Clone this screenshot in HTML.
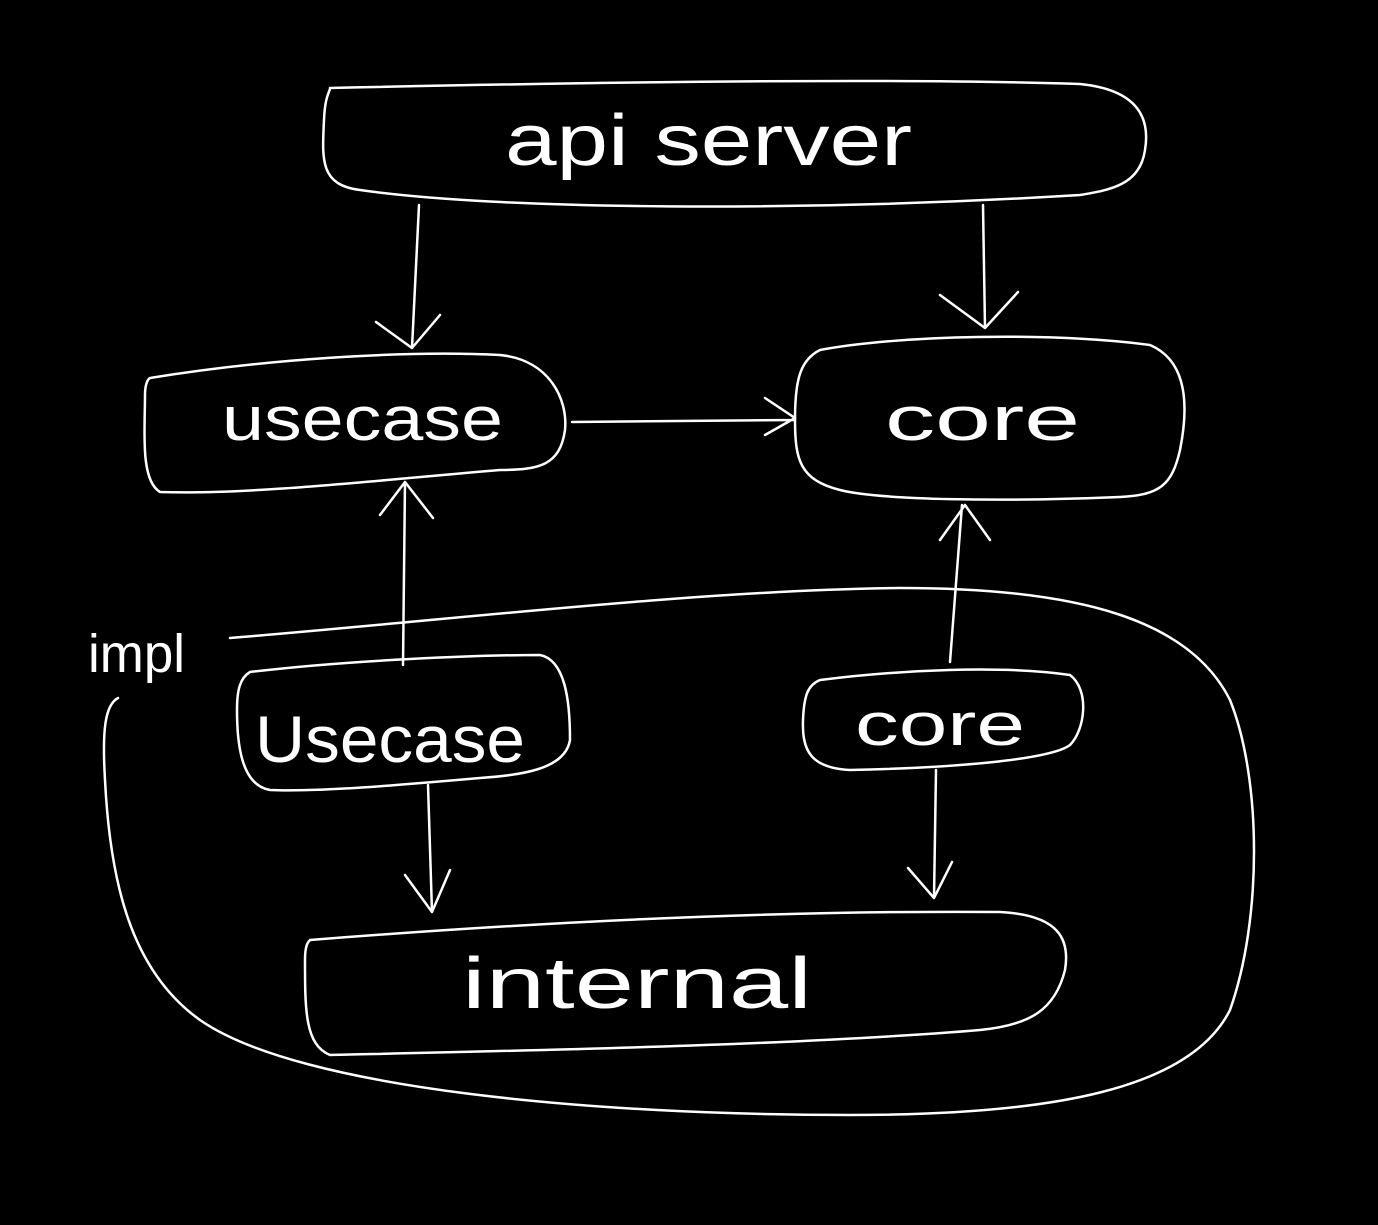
<!DOCTYPE html>
<html><head><meta charset="utf-8"><style>
html,body{margin:0;padding:0;background:#000;}
svg{display:block}
text{font-family:"Liberation Sans",sans-serif;fill:#fff;}
</style></head><body>
<svg width="1378" height="1225" viewBox="0 0 1378 1225" xmlns="http://www.w3.org/2000/svg">
<g fill="none" stroke="#fff" stroke-width="2.5" stroke-linecap="round" stroke-linejoin="round">
<!-- api server box -->
<path d="M330,88 C600,82 900,78 1080,84 C1140,90 1150,120 1145,150 C1140,185 1110,190 1080,195 C800,212 500,210 360,190 C320,185 322,160 324,120 C325,95 330,92 330,88"/>
<!-- usecase box -->
<path d="M150,378 C260,360 400,350 500,355 C550,360 568,400 565,430 C560,465 540,470 500,470 C380,480 250,495 160,492 C140,480 145,430 145,395 C145,380 150,378 150,378"/>
<!-- core box -->
<path d="M820,350 C900,335 1050,332 1150,345 C1185,360 1190,400 1180,450 C1172,485 1160,495 1120,497 C1000,502 880,500 840,490 C800,480 795,460 795,420 C795,380 800,360 820,350"/>
<!-- arrows top -->
<path d="M419,205 L412,348 M376,322 L412,348 L440,315"/>
<path d="M983,205 L985,328 M940,295 L985,328 L1018,292"/>
<path d="M572,422 L795,420 M765,398 L795,418 L765,435"/>
<!-- impl loop -->
<path d="M230,638 C450,620 700,590 900,588 C1080,588 1190,620 1230,700 C1262,780 1262,920 1230,1010 C1190,1090 1050,1115 850,1115 C600,1115 300,1090 200,1020 C130,970 110,880 105,780 C102,730 105,705 118,698"/>
<!-- Usecase impl box -->
<path d="M250,672 C350,660 480,655 540,655 C565,660 570,700 570,740 C565,770 520,775 480,778 C400,785 320,792 270,790 C240,785 237,740 237,710 C237,690 240,678 250,672"/>
<path d="M403,665 L405,482 M380,515 L405,482 L433,518"/>
<!-- core impl box -->
<path d="M820,680 C900,670 1000,665 1070,675 C1090,690 1085,730 1070,745 C1050,760 950,768 850,770 C810,768 802,750 803,720 C804,695 808,685 820,680"/>
<path d="M950,662 L962,505 M940,540 L965,505 L990,540"/>
<!-- internal box -->
<path d="M310,940 C500,925 750,910 1000,912 C1060,915 1070,940 1065,970 C1055,1010 1030,1025 980,1030 C800,1045 550,1050 330,1055 C305,1045 305,1010 305,960 C305,945 308,942 310,940"/>
<path d="M428,785 L432,912 M405,875 L432,912 L450,870"/>
<path d="M936,770 L934,898 M908,868 L934,898 L952,862"/>
</g>
<text x="505" y="165" font-size="72" textLength="407" lengthAdjust="spacingAndGlyphs">api server</text>
<text x="222" y="440" font-size="62" textLength="281" lengthAdjust="spacingAndGlyphs">usecase</text>
<text x="885" y="440" font-size="62" textLength="195" lengthAdjust="spacingAndGlyphs">core</text>
<text x="88" y="672" font-size="54" textLength="97" lengthAdjust="spacingAndGlyphs">impl</text>
<text x="255" y="762" font-size="66" textLength="270" lengthAdjust="spacingAndGlyphs">Usecase</text>
<text x="855" y="745" font-size="60" textLength="170" lengthAdjust="spacingAndGlyphs">core</text>
<text x="462" y="1008" font-size="72" textLength="350" lengthAdjust="spacingAndGlyphs">internal</text>
</svg>
</body></html>
